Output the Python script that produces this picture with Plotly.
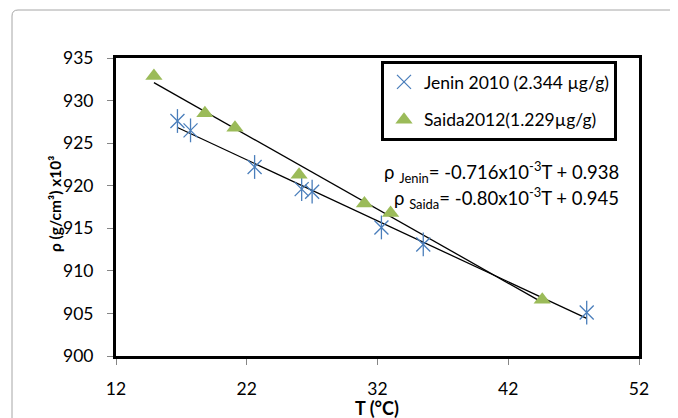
import numpy as np
import plotly.graph_objects as go

# Data
jenin_T = [16.7, 17.7, 22.6, 26.2, 27.0, 32.3, 35.5, 48.0]
jenin_rho = [927.6, 926.5, 922.2, 919.6, 919.3, 915.1, 913.1, 905.1]
saida_T = [14.9, 18.8, 21.1, 26.0, 31.0, 33.0, 44.6]
saida_rho = [932.9, 928.5, 926.8, 921.3, 917.9, 916.8, 906.6]

jenin_name = "Jenin 2010 (2.344 µg/g)"
saida_name = "Saida2012(1.229µg/g)"
jenin_eq = "ρ <sub>Jenin</sub>= -0.716x10<sup>-3</sup>T + 0.938"
saida_eq = "ρ <sub>Saida</sub>= -0.80x10<sup>-3</sup>T + 0.945"
x_title = "<b>T (°C)</b>"
y_title = "<b>ρ (g/cm³) x10³</b>"

x_ticks = [12, 22, 32, 42, 52]
y_ticks = [900, 905, 910, 915, 920, 925, 930, 935]

OFF = 8  # page body margin
W, H = 678 - OFF, 418 - OFF
L, T = 116 - OFF, 58 - OFF
pw, ph = 523, 298
R, B = W - L - pw, H - T - ph

# convert window pixel coordinates to paper coordinates
def px(x):
    return (x - OFF - L) / pw

def py(y):
    return (H - B - (y - OFF)) / ph

FONT = "Lato"
BLUE = "#4a7ebb"
GREEN = "#9bbb59"
fig = go.Figure()

# trendlines (least squares through each series)
for xs, ys in [(jenin_T, jenin_rho), (saida_T, saida_rho)]:
    m, c = np.polyfit(xs, ys, 1)
    xe = [min(xs), max(xs)]
    fig.add_trace(go.Scatter(x=xe, y=[m * v + c for v in xe], mode="lines",
                             line=dict(color="black", width=1.3),
                             showlegend=False, hoverinfo="skip"))

# Excel-style star: x plus a vertical stroke
fig.add_trace(go.Scatter(x=jenin_T, y=jenin_rho, mode="markers", name=jenin_name,
                         legendgroup="a",
                         marker=dict(symbol="x-thin-open", size=14, color=BLUE,
                                     line=dict(color=BLUE, width=1.3))))
fig.add_trace(go.Scatter(x=jenin_T, y=jenin_rho, mode="markers", showlegend=False,
                         legendgroup="a", hoverinfo="skip",
                         marker=dict(symbol="line-ns-open", size=17, color=BLUE,
                                     line=dict(color=BLUE, width=1.3))))
fig.add_trace(go.Scatter(x=saida_T, y=saida_rho, mode="markers", name=saida_name,
                         legendgroup="b",
                         marker=dict(symbol="triangle-up", size=15, color=GREEN)))

fig.add_annotation(x=px(621), y=py(172), xref="paper", yref="paper",
                   text=jenin_eq, showarrow=False, xanchor="right", yanchor="middle",
                   font=dict(family=FONT, size=18.5, color="black"))
fig.add_annotation(x=px(621), y=py(198), xref="paper", yref="paper",
                   text=saida_eq, showarrow=False, xanchor="right", yanchor="middle",
                   font=dict(family=FONT, size=18.5, color="black"))

# axis titles
fig.add_annotation(x=px(377), y=py(408), xref="paper", yref="paper",
                   text=x_title, showarrow=False, xanchor="center", yanchor="middle",
                   font=dict(family=FONT, size=18, color="black"))
fig.add_annotation(x=px(55), y=py(204), xref="paper", yref="paper",
                   text=y_title, showarrow=False, xanchor="center", yanchor="middle",
                   textangle=-90,
                   font=dict(family=FONT, size=15.5, color="black"))

# outer chart border with rounded top-left corner
x0, y0, x1, y1, r = px(12), py(10), px(700), py(440), 6
path = (f"M {x0},{y1} L {x0},{py(10 + r)} Q {x0},{y0} {px(12 + r)},{y0} L {x1},{y0}")
fig.add_shape(type="path", path=path, xref="paper", yref="paper",
              line=dict(color="#a6a6a6", width=1))

fig.update_layout(
    width=W, height=H,
    margin=dict(l=L, r=R, t=T, b=B, autoexpand=False),
    paper_bgcolor="white", plot_bgcolor="white",
    font=dict(family=FONT, size=17.5, color="black"),
    legend=dict(x=px(381), y=py(61), xanchor="left", yanchor="top",
                bordercolor="black", borderwidth=3, bgcolor="white",
                font=dict(family=FONT, size=17.5), tracegroupgap=12,
                itemwidth=30),
    xaxis=dict(range=[12, 52], tickvals=x_ticks, showgrid=False, zeroline=False,
               showline=True, mirror=True, linecolor="black", linewidth=3,
               ticks="outside", ticklen=6, tickcolor="#868686",
               ticklabelstandoff=9, automargin=False,
               tickfont=dict(family=FONT, size=17.5)),
    yaxis=dict(range=[900, 935], tickvals=y_ticks, showgrid=False, zeroline=False,
               showline=True, mirror=True, linecolor="black", linewidth=3,
               ticks="outside", ticklen=6, tickcolor="#868686",
               ticklabelstandoff=10, automargin=False,
               tickfont=dict(family=FONT, size=17.5)),
)

fig.write_html("out.html")
